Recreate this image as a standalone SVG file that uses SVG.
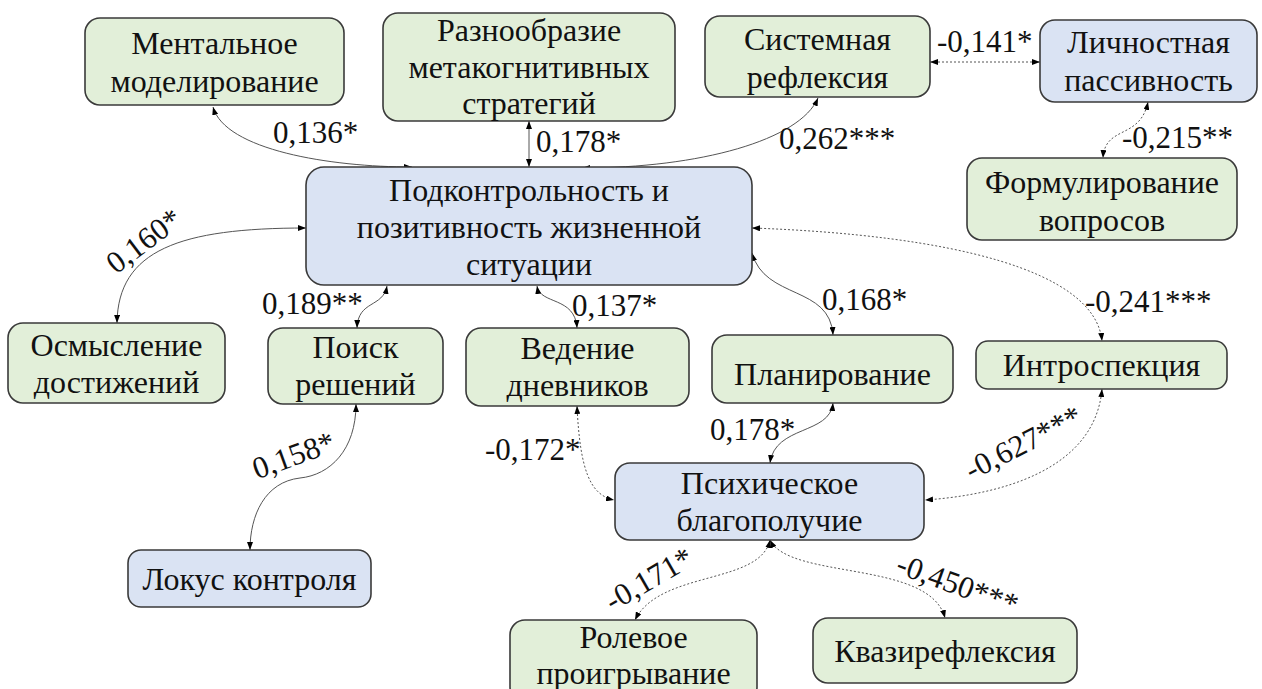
<svg xmlns="http://www.w3.org/2000/svg" width="1262" height="689" viewBox="0 0 1262 689">
<defs>
<marker id="ah" viewBox="0 0 8 6" refX="8" refY="3" markerWidth="8" markerHeight="6" markerUnits="userSpaceOnUse" orient="auto-start-reverse">
<path d="M0,0 L8,3 L0,6 z" fill="#000"/>
</marker>
<style>
text{font-family:'Liberation Serif',Tinos,'Times New Roman',Times,'Nimbus Roman','Nimbus Roman No9 L',FreeSerif,'Noto Serif','DejaVu Serif',serif}
.g{fill:#e2efd9;stroke:#3a3a3a;stroke-width:1.6}
.b{fill:#dae3f3;stroke:#3a3a3a;stroke-width:1.6}
.t{font-size:32px;fill:#111;text-anchor:middle}
.l{font-size:31px;fill:#111}
.c{fill:none;stroke:#555;stroke-width:1;marker-start:url(#ah);marker-end:url(#ah)}
.d{fill:none;stroke:#555;stroke-width:1;stroke-dasharray:2,2;marker-start:url(#ah);marker-end:url(#ah)}
</style>
</defs>
<rect width="1262" height="689" fill="#fff"/>

<g id="connectors">
<path class="c" d="M213,107 C225,150 330,167 412,167"/>
<path class="c" d="M529,121 L529,167"/>
<path class="c" d="M818,98 C800,140 700,168 582,168"/>
<path class="d" d="M930,62 L1040,62"/>
<path class="d" d="M1148,102 C1140,140 1105,125 1103,158"/>
<path class="d" d="M752,228 C950,235 1095,270 1102,341"/>
<path class="c" d="M306,228 C180,228 118,250 117,323"/>
<path class="c" d="M387,286 C383,308 358,300 357,328"/>
<path class="c" d="M537,286 C540,305 575,296 577,328"/>
<path class="c" d="M752,253 C765,300 830,285 833,335"/>
<path class="c" d="M356,404 C356,450 330,475 300,478 C265,482 250,515 250,550"/>
<path class="d" d="M577,406 C580,470 590,495 614,500"/>
<path class="c" d="M833,403 C830,435 775,425 770,463"/>
<path class="d" d="M1102,389 C1095,470 1000,495 925,500"/>
<path class="d" d="M770,540 C760,585 660,570 635,620"/>
<path class="d" d="M770,540 C790,580 930,560 945,618"/>
<text class="l" x="273" y="143">0,136*</text>
<text class="l" x="536" y="152">0,178*</text>
<text class="l" x="779" y="149">0,262***</text>
<text class="l" x="937" y="52">-0,141*</text>
<text class="l" x="1122" y="148">-0,215**</text>
<text class="l" text-anchor="middle" transform="translate(150,249) rotate(-37)">0,160*</text>
<text class="l" x="262" y="314">0,189**</text>
<text class="l" x="572" y="316">0,137*</text>
<text class="l" x="822" y="310">0,168*</text>
<text class="l" x="1085" y="312">-0,241***</text>
<text class="l" text-anchor="middle" transform="translate(297,465) rotate(-20)">0,158*</text>
<text class="l" x="485" y="460">-0,172*</text>
<text class="l" x="710" y="440">0,178*</text>
<text class="l" text-anchor="middle" transform="translate(1028,452) rotate(-27)">-0,627***</text>
<text class="l" text-anchor="middle" transform="translate(654,588) rotate(-30)">-0,171*</text>
<text class="l" text-anchor="middle" transform="translate(954,594) rotate(20)">-0,450***</text>
</g>

<g id="nodes">
<g id="n_mental"><rect class="g" x="85" y="18" width="259" height="87" rx="15"/>
<text class="t" x="214.5" y="54">Ментальное</text><text class="t" x="214.5" y="92">моделирование</text></g>
<g id="n_raznoobr"><rect class="g" x="383" y="13" width="292" height="108" rx="15"/>
<text class="t" x="529" y="41">Разнообразие</text><text class="t" x="529" y="78">метакогнитивных</text><text class="t" x="529" y="114">стратегий</text></g>
<g id="n_sistem"><rect class="g" x="705" y="16" width="225" height="81" rx="15"/>
<text class="t" x="817.5" y="50">Системная</text><text class="t" x="817.5" y="88">рефлексия</text></g>
<g id="n_lichn"><rect class="b" x="1040" y="20" width="217" height="82" rx="15"/>
<text class="t" x="1148.5" y="53">Личностная</text><text class="t" x="1148.5" y="91">пассивность</text></g>
<g id="n_formul"><rect class="g" x="967" y="158" width="270" height="82" rx="15"/>
<text class="t" x="1102" y="193">Формулирование</text><text class="t" x="1102" y="231">вопросов</text></g>
<g id="n_podkontr"><rect class="b" x="306" y="167" width="446" height="118" rx="18"/>
<text class="t" x="529" y="201">Подконтрольность и</text><text class="t" x="529" y="238">позитивность жизненной</text><text class="t" x="529" y="275">ситуации</text></g>
<g id="n_osmysl"><rect class="g" x="8" y="323" width="217" height="80" rx="15"/>
<text class="t" x="116.5" y="356">Осмысление</text><text class="t" x="116.5" y="393">достижений</text></g>
<g id="n_poisk"><rect class="g" x="268" y="328" width="175" height="76" rx="15"/>
<text class="t" x="355.5" y="358">Поиск</text><text class="t" x="355.5" y="395">решений</text></g>
<g id="n_vedenie"><rect class="g" x="466" y="328" width="223" height="78" rx="15"/>
<text class="t" x="577.5" y="359">Ведение</text><text class="t" x="577.5" y="396">дневников</text></g>
<g id="n_plan"><rect class="g" x="712" y="335" width="241" height="68" rx="15"/>
<text class="t" x="832.5" y="385">Планирование</text></g>
<g id="n_introsp"><rect class="g" x="976" y="341" width="251" height="48" rx="12"/>
<text class="t" x="1101.5" y="376">Интроспекция</text></g>
<g id="n_psih"><rect class="b" x="615" y="463" width="309" height="77" rx="15"/>
<text class="t" x="769.5" y="494">Психическое</text><text class="t" x="769.5" y="531">благополучие</text></g>
<g id="n_lokus"><rect class="b" x="128" y="550" width="243" height="57" rx="13"/>
<text class="t" x="249.5" y="590">Локус контроля</text></g>
<g id="n_rolevoe"><rect class="g" x="510" y="620" width="247" height="82" rx="15"/>
<text class="t" x="633.5" y="648">Ролевое</text><text class="t" x="633.5" y="684">проигрывание</text></g>
<g id="n_kvazi"><rect class="g" x="813" y="618" width="264" height="65" rx="15"/>
<text class="t" x="945" y="662">Квазирефлексия</text></g>
</g>
</svg>
